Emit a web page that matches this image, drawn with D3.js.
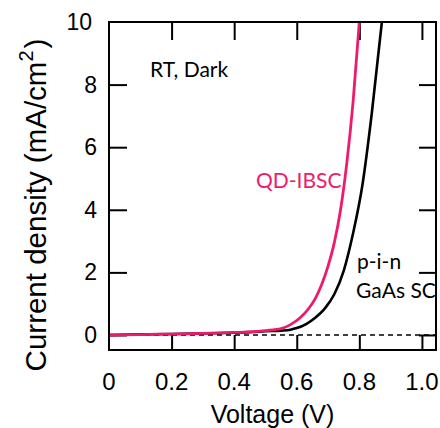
<!DOCTYPE html>
<html>
<head>
<meta charset="utf-8">
<script src="https://cdn.jsdelivr.net/npm/d3@7"></script>
<style>
  html, body { margin: 0; padding: 0; background: #fff; }
  svg { display: block; }
</style>
</head>
<body>
<div id="chart"></div>
<script>
// ---- data ----
const voltageQD = [0, 0.1, 0.2, 0.3, 0.4, 0.45, 0.5, 0.55, 0.58, 0.61, 0.64, 0.66, 0.68, 0.70, 0.72, 0.74, 0.76, 0.78, 0.80];
const currentQD = [0, 0.01, 0.03, 0.05, 0.08, 0.1, 0.14, 0.2, 0.33, 0.54, 0.87, 1.18, 1.62, 2.2, 2.95, 4.0, 5.5, 7.45, 10.0];

const voltagePIN = [0, 0.1, 0.2, 0.3, 0.4, 0.45, 0.5, 0.55, 0.58, 0.6, 0.63, 0.66, 0.69, 0.72, 0.75, 0.78, 0.81, 0.84, 0.872];
const currentPIN = [0, 0.02, 0.03, 0.05, 0.07, 0.09, 0.12, 0.14, 0.17, 0.22, 0.35, 0.56, 0.85, 1.3, 2.05, 3.25, 4.8, 7.1, 10.0];

const xTickValues = [0, 0.2, 0.4, 0.6, 0.8, 1.0];
const xTickLabels = ["0", "0.2", "0.4", "0.6", "0.8", "1.0"];
const yTickValues = [0, 2, 4, 6, 8, 10];
const yTickLabels = ["0", "2", "4", "6", "8", "10"];

const seriesNames = ["QD-IBSC", "p-i-n", "GaAs SC"];
const annotation = "RT, Dark";
const xTitle = "Voltage (V)";
const yTitleMain = "Current density (mA/cm";
const yTitleSup = "2";
const yTitleEnd = ")";

(function () {
// ---- layout ----
const W = 440, H = 428;
const pL = 109, pR = 436, pT = 22, pB = 350;
const pink = "#ee1a6c";

const x = d3.scaleLinear().domain([0, 1.045]).range([pL, pR]);
const y = d3.scaleLinear().domain([-0.48, 10]).range([pB, pT]);

const svg = d3.select("#chart").append("svg").attr("width", W).attr("height", H);

svg.append("clipPath").attr("id", "plotclip")
  .append("rect").attr("x", pL).attr("y", pT).attr("width", pR - pL).attr("height", pB - pT);

// dashed zero line
svg.append("line")
  .attr("x1", x(0)).attr("x2", pR)
  .attr("y1", y(0)).attr("y2", y(0))
  .attr("stroke", "#000").attr("stroke-width", 1.5)
  .attr("stroke-dasharray", "5,4");

const tickFont = "'Liberation Sans', Arial, sans-serif";
function styleAxis(g) {
  g.select(".domain").remove();
  g.selectAll(".tick line").attr("stroke", "#000").attr("stroke-width", 2);
  g.selectAll(".tick text").remove();
}
const innerX = xTickValues.filter(v => v > 0);
const innerY = yTickValues.filter(v => v < 10);

svg.append("g").attr("transform", `translate(0,${pB})`)
  .call(d3.axisBottom(x).tickValues(innerX).tickSizeInner(-15).tickSizeOuter(0))
  .call(styleAxis);
svg.append("g").attr("transform", `translate(0,${pT})`)
  .call(d3.axisTop(x).tickValues(innerX).tickSizeInner(-18).tickSizeOuter(0))
  .call(styleAxis);
svg.append("g").attr("transform", `translate(${pL},0)`)
  .call(d3.axisLeft(y).tickValues(innerY).tickSizeInner(-18).tickSizeOuter(0))
  .call(styleAxis);
svg.append("g").attr("transform", `translate(${pR},0)`)
  .call(d3.axisRight(y).tickValues(innerY).tickSizeInner(-17).tickSizeOuter(0))
  .call(styleAxis);

// tick labels
svg.append("g").selectAll("text").data(xTickValues).join("text")
  .attr("x", d => x(d)).attr("y", 390)
  .attr("text-anchor", "middle")
  .attr("font-family", tickFont).attr("font-size", 24).attr("fill", "#000")
  .text((d, i) => xTickLabels[i]);
svg.append("g").selectAll("text").data(yTickValues).join("text")
  .attr("x", d => d === 10 ? 92 : 97).attr("y", d => y(d))
  .attr("dy", "0.35em")
  .attr("text-anchor", "end")
  .attr("font-family", tickFont).attr("font-size", 23).attr("fill", "#000")
  .text((d, i) => yTickLabels[i]);

// axis titles
svg.append("text")
  .attr("x", (pL + pR) / 2).attr("y", 423)
  .attr("text-anchor", "middle")
  .attr("font-family", tickFont).attr("font-size", 25).attr("fill", "#000")
  .text(xTitle);

const yt = svg.append("text")
  .attr("transform", "translate(46,205) rotate(-90)")
  .attr("text-anchor", "middle")
  .attr("font-family", tickFont).attr("font-size", 29.5).attr("fill", "#000");
yt.append("tspan").text(yTitleMain);
yt.append("tspan").attr("font-size", 20).attr("dy", -13).text(yTitleSup);
yt.append("tspan").attr("dy", 13).attr("dx", 2).text(yTitleEnd);

// curves
const line = d3.line().x(d => x(d[0])).y(d => y(d[1])).curve(d3.curveMonotoneX);
const pinData = voltagePIN.map((v, i) => [v, currentPIN[i]]);
const qdData = voltageQD.map((v, i) => [v, currentQD[i]]);

svg.append("path").datum(pinData)
  .attr("clip-path", "url(#plotclip)")
  .attr("d", line).attr("fill", "none")
  .attr("stroke", "#000").attr("stroke-width", 2.6);
svg.append("path").datum(qdData)
  .attr("clip-path", "url(#plotclip)")
  .attr("d", line).attr("fill", "none")
  .attr("stroke", pink).attr("stroke-width", 2.8);

// frame
svg.append("rect")
  .attr("x", pL).attr("y", pT).attr("width", pR - pL).attr("height", pB - pT)
  .attr("fill", "none").attr("stroke", "#000").attr("stroke-width", 2);

// annotations
const annFont = "Lato, 'Open Sans', sans-serif";
svg.append("text").attr("x", 150).attr("y", 77)
  .attr("font-family", annFont).attr("font-size", 21).attr("fill", "#000")
  .text(annotation);
svg.append("text").attr("x", 256).attr("y", 188)
  .attr("font-family", annFont).attr("font-size", 21).attr("fill", pink)
  .text(seriesNames[0]);
svg.append("text").attr("x", 357).attr("y", 269)
  .attr("font-family", annFont).attr("font-size", 21).attr("fill", "#000")
  .text(seriesNames[1]);
svg.append("text").attr("x", 356).attr("y", 298)
  .attr("font-family", annFont).attr("font-size", 21).attr("fill", "#000")
  .text(seriesNames[2]);
})();
</script>
</body>
</html>
